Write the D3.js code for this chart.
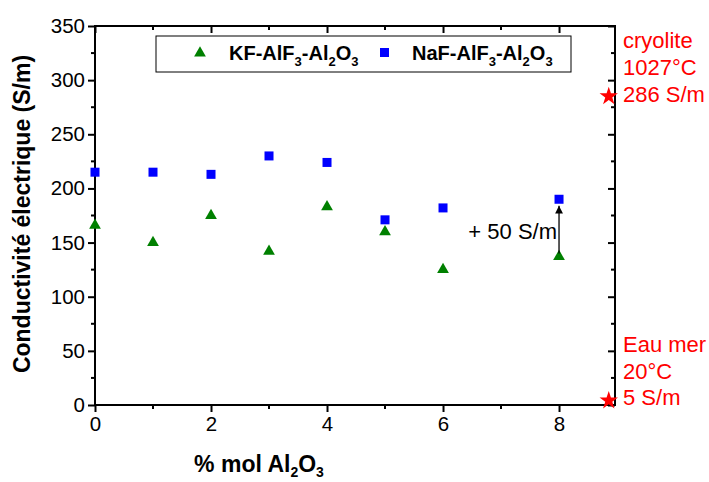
<!DOCTYPE html>
<html><head><meta charset="utf-8">
<script src="https://cdn.jsdelivr.net/npm/d3@7"></script>
<style>body{margin:0;background:#fff}svg{display:block;font-family:Arial,"Liberation Sans",sans-serif}</style>
</head><body>
<svg id="c" width="709" height="482"></svg>
<script>
const xValues = [0, 1, 2, 3, 4, 5, 6, 8];
const kfValues = [166, 150, 175, 142, 183, 160, 125, 137];
const nafValues = [215, 215, 213, 230, 224, 171, 182, 190];
const seriesNames = ["KF-AlF3-Al2O3", "NaF-AlF3-Al2O3"];
const xTicks = [0, 2, 4, 6, 8];
const yTicks = [0, 50, 100, 150, 200, 250, 300, 350];
const refX = 8.84;
const refValues = [286, 5];
const refLabels = [["cryolite", "1027°C", "286 S/m"], ["Eau mer", "20°C", "5 S/m"]];
const shiftFrom = 140, shiftTo = 184, shiftX = 8;

const svg = d3.select("#c");
const L = 95, R = 615, T = 26, B = 405;
const x = d3.scaleLinear().domain([0, 8.965]).range([L, R]);
const y = d3.scaleLinear().domain([0, 350]).range([B, T]);

const minorX = [1, 3, 5, 7];
const minorY = d3.range(25, 350, 50);

// frame
svg.append("rect").attr("x", L).attr("y", T).attr("width", R - L).attr("height", B - T)
  .attr("fill", "none").attr("stroke", "#000").attr("stroke-width", 2);

// bottom axis
const gB = svg.append("g").attr("transform", `translate(0,${B})`)
  .call(d3.axisBottom(x).tickValues(xTicks).tickSize(7).tickPadding(4).tickFormat(d3.format("d")));
svg.append("g").selectAll("line").data(minorX).join("line")
  .attr("x1", d => x(d)).attr("x2", d => x(d)).attr("y1", B).attr("y2", B + 4)
  .attr("stroke", "#000").attr("stroke-width", 2);
// left axis
const gL = svg.append("g").attr("transform", `translate(${L},0)`)
  .call(d3.axisLeft(y).tickValues(yTicks).tickSize(7).tickPadding(3));
svg.append("g").selectAll("line").data(minorY).join("line")
  .attr("x1", L).attr("x2", L - 4).attr("y1", d => y(d)).attr("y2", d => y(d))
  .attr("stroke", "#000").attr("stroke-width", 2);
// top axis (inward)
const gT = svg.append("g").attr("transform", `translate(0,${T})`)
  .call(d3.axisTop(x).tickValues(xTicks).tickSize(-7).tickFormat(""));
svg.append("g").selectAll("line").data(minorX).join("line")
  .attr("x1", d => x(d)).attr("x2", d => x(d)).attr("y1", T).attr("y2", T + 4)
  .attr("stroke", "#000").attr("stroke-width", 2);
// right axis (inward)
const gR = svg.append("g").attr("transform", `translate(${R},0)`)
  .call(d3.axisRight(y).tickValues(yTicks).tickSize(-7).tickFormat(""));
svg.append("g").selectAll("line").data(minorY).join("line")
  .attr("x1", R).attr("x2", R - 4).attr("y1", d => y(d)).attr("y2", d => y(d))
  .attr("stroke", "#000").attr("stroke-width", 2);

[gB, gL, gT, gR].forEach(g => {
  g.select(".domain").remove();
  g.selectAll(".tick line").attr("stroke-width", 2);
  g.selectAll("text").attr("font-size", 20.5).attr("fill", "#000").attr("font-family", "Arial, 'Liberation Sans', sans-serif");
});

// axis titles
const xt = svg.append("text").attr("x", 259).attr("y", 472).attr("text-anchor", "middle")
  .attr("font-size", 23).attr("font-weight", "bold");
xt.append("tspan").text("% mol Al");
xt.append("tspan").attr("font-size", 14).attr("dy", 5).text("2");
xt.append("tspan").attr("dy", -5).text("O");
xt.append("tspan").attr("font-size", 14).attr("dy", 5).text("3");

svg.append("text").attr("transform", "translate(30,214) rotate(-90)").attr("text-anchor", "middle")
  .attr("font-size", 23).attr("font-weight", "bold").text("Conductivité électrique (S/m)");

// data
const tri = d3.symbol().type(d3.symbolTriangle).size(60);
svg.append("g").selectAll("path").data(xValues).join("path")
  .attr("d", tri).attr("transform", (d, i) => `translate(${x(d)},${y(kfValues[i])})`)
  .attr("fill", "#008000");
svg.append("g").selectAll("rect").data(xValues).join("rect")
  .attr("x", d => x(d) - 4.5).attr("y", (d, i) => y(nafValues[i]) - 4.5)
  .attr("width", 9).attr("height", 9).attr("fill", "#0000ff");

// shift arrow
svg.append("defs").append("marker").attr("id", "ah").attr("viewBox", "0 0 10 10")
  .attr("refX", 10).attr("refY", 5).attr("markerWidth", 6).attr("markerHeight", 8)
  .attr("orient", "auto").append("path").attr("d", "M0,0 L10,5 L0,10 z").attr("fill", "#000");
svg.append("line").attr("x1", x(shiftX)).attr("x2", x(shiftX))
  .attr("y1", y(shiftFrom)).attr("y2", y(shiftTo))
  .attr("stroke", "#000").attr("stroke-width", 1.3).attr("marker-end", "url(#ah)");
svg.append("text").attr("x", x(shiftX) - 2).attr("y", 239).attr("text-anchor", "end")
  .attr("font-size", 22).text("+ 50 S/m");

// reference stars
const star = d3.symbol().type(d3.symbolStar).size(105);
svg.append("g").selectAll("path").data(refValues).join("path")
  .attr("d", star).attr("transform", d => `translate(${x(refX) + 1},${y(d) + 1})`).attr("fill", "#ff0000");
const labBase = [48, 352];
const labStep = [27, 26.5];
refLabels.forEach((lines, k) => {
  lines.forEach((t, j) => {
    svg.append("text").attr("x", 623).attr("y", labBase[k] + j * labStep[k])
      .attr("font-size", 22).attr("fill", "#ff0000").text(t);
  });
});

// legend
svg.append("rect").attr("x", 156).attr("y", 36).attr("width", 415).attr("height", 36)
  .attr("fill", "#fff").attr("stroke", "#000").attr("stroke-width", 1);
svg.append("path").attr("d", tri).attr("transform", "translate(200,53)").attr("fill", "#008000");
svg.append("rect").attr("x", 380).attr("y", 48).attr("width", 9).attr("height", 9).attr("fill", "#0000ff");
function legendText(xp, name) {
  const t = svg.append("text").attr("x", xp).attr("y", 60).attr("font-size", 20).attr("font-weight", "bold");
  const parts = name.match(/[A-Za-z\-]+|\d/g);
  let sub = false;
  parts.forEach(p => {
    if (/\d/.test(p)) { t.append("tspan").attr("font-size", 13).attr("dy", 6).text(p); sub = true; }
    else { t.append("tspan").attr("dy", sub ? -6 : 0).text(p); sub = false; }
  });
}
legendText(229, seriesNames[0]);
legendText(412, seriesNames[1]);
</script>
</body></html>
